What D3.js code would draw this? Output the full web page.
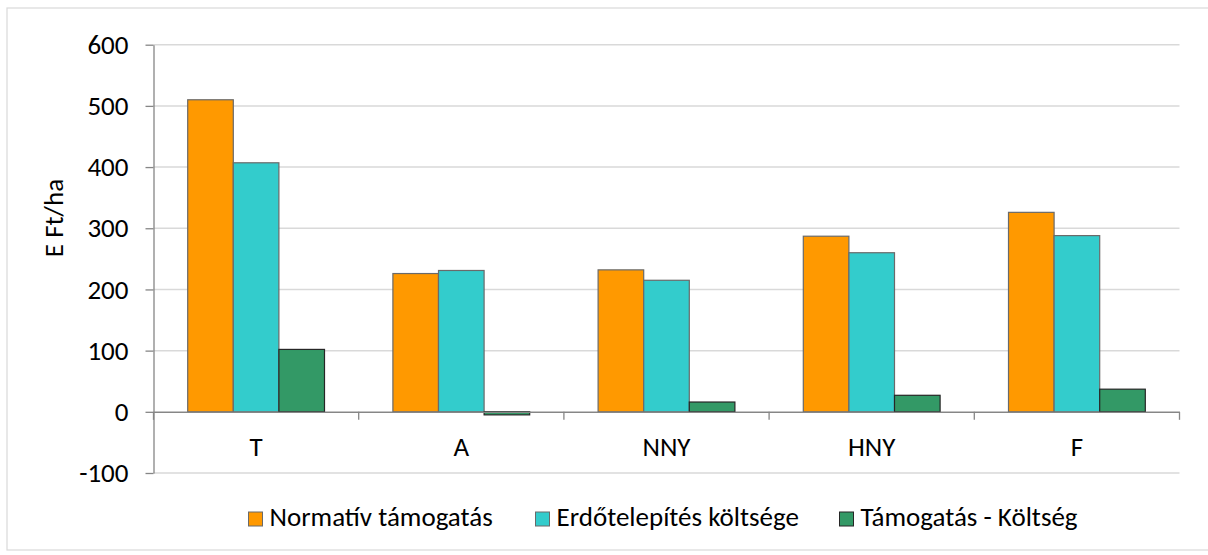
<!DOCTYPE html>
<html><head><meta charset="utf-8">
<script src="https://cdn.jsdelivr.net/npm/d3@7"></script>
<style>body{margin:0;background:#fff;} svg{display:block;}</style>
</head><body>
<svg id="c" width="1208" height="555"></svg>
<script>
const categories = ["T", "A", "NNY", "HNY", "F"];
const seriesNames = ["Normatív támogatás", "Erdőtelepítés költsége", "Támogatás - Költség"];
const normativ = [510, 226, 232, 287, 326];
const koltseg = [407, 231, 215, 260, 288];
const kulonbseg = [102, -5, 16, 27, 37];
const yTicks = [-100, 0, 100, 200, 300, 400, 500, 600];
const yTitle = "E Ft/ha";
const colors = ["#FF9900", "#33CCCC", "#339966"];
const strokes = ["#6a6a6a", "#6a6a6a", "#262626"];

const values = [normativ, koltseg, kulonbseg];
const svg = d3.select("#c");
const font = "Carlito, Lato, 'Open Sans', sans-serif";
const fs = 26;

// outer frame
svg.append("rect").attr("x", 7).attr("y", 8).attr("width", 1205).attr("height", 542)
  .attr("fill", "none").attr("stroke", "#d9d9d9").attr("stroke-width", 1.2);

const L = 153.5, R = 1179.5, T = 44.7, B = 473;
const y = d3.scaleLinear().domain([-100, 600]).range([B, T]);
const x0 = d3.scaleBand().domain(categories).range([L, R]).paddingInner(0).paddingOuter(0);
const x1 = d3.scaleBand().domain(d3.range(3)).range([x0.bandwidth() / 6, x0.bandwidth() * 5 / 6]);

// gridlines
svg.append("g").selectAll("line").data(yTicks).join("line")
  .attr("x1", L).attr("x2", R).attr("y1", d => y(d)).attr("y2", d => y(d))
  .attr("stroke", "#d9d9d9").attr("stroke-width", 1.5);

// y axis
const yAxis = d3.axisLeft(y).tickValues(yTicks).tickFormat(d => String(d))
  .tickSize(8).tickPadding(17).tickSizeOuter(0);
const gy = svg.append("g").attr("transform", `translate(${L},0)`).call(yAxis);
gy.select(".domain").attr("stroke", "#868686").attr("stroke-width", 1.3);
gy.selectAll(".tick line").attr("stroke", "#868686").attr("stroke-width", 1.3);
gy.selectAll("text").attr("font-family", font).attr("font-size", 27).attr("fill", "#000");

// bars
const groups = svg.append("g").selectAll("g").data(categories).join("g")
  .attr("transform", d => `translate(${x0(d)},0)`);
groups.selectAll("rect").data((d, i) => values.map((v, s) => ({ s, v: v[i] }))).join("rect")
  .attr("x", d => x1(d.s))
  .attr("width", x1.bandwidth())
  .attr("y", d => y(Math.max(0, d.v)))
  .attr("height", d => Math.abs(y(d.v) - y(0)))
  .attr("fill", d => colors[d.s])
  .attr("stroke", d => strokes[d.s])
  .attr("stroke-width", 1.2);

// x axis at zero
const xAxis = d3.axisBottom(x0).tickSize(0);
const gx = svg.append("g").attr("transform", `translate(0,${y(0)})`).call(xAxis);
gx.select(".domain").attr("stroke", "#868686").attr("stroke-width", 1.3);
gx.selectAll("text").attr("font-family", font).attr("font-size", 27).attr("fill", "#000")
  .attr("y", 44).attr("dy", 0);
// category boundary ticks
const bounds = categories.map(c => x0(c)).concat([R]);
gx.selectAll(".bt").data(bounds).join("line").attr("class", "bt")
  .attr("x1", d => d).attr("x2", d => d).attr("y1", 0).attr("y2", 8)
  .attr("stroke", "#868686").attr("stroke-width", 1.3);

// y title
svg.append("text").attr("transform", "translate(63,218) rotate(-90)")
  .attr("text-anchor", "middle").attr("font-family", font).attr("font-size", fs + 1)
  .text(yTitle);

// legend
const legX = [248.5, 535.5, 839.5];
const leg = svg.append("g").selectAll("g").data(seriesNames).join("g")
  .attr("transform", (d, i) => `translate(${legX[i]},512)`);
leg.append("rect").attr("width", 14).attr("height", 14)
  .attr("fill", (d, i) => colors[i]).attr("stroke", (d, i) => strokes[i]).attr("stroke-width", 1);
leg.append("text").attr("x", 21).attr("y", 13.5).attr("font-family", font).attr("font-size", fs + 1)
  .text(d => d);
</script>
</body></html>
